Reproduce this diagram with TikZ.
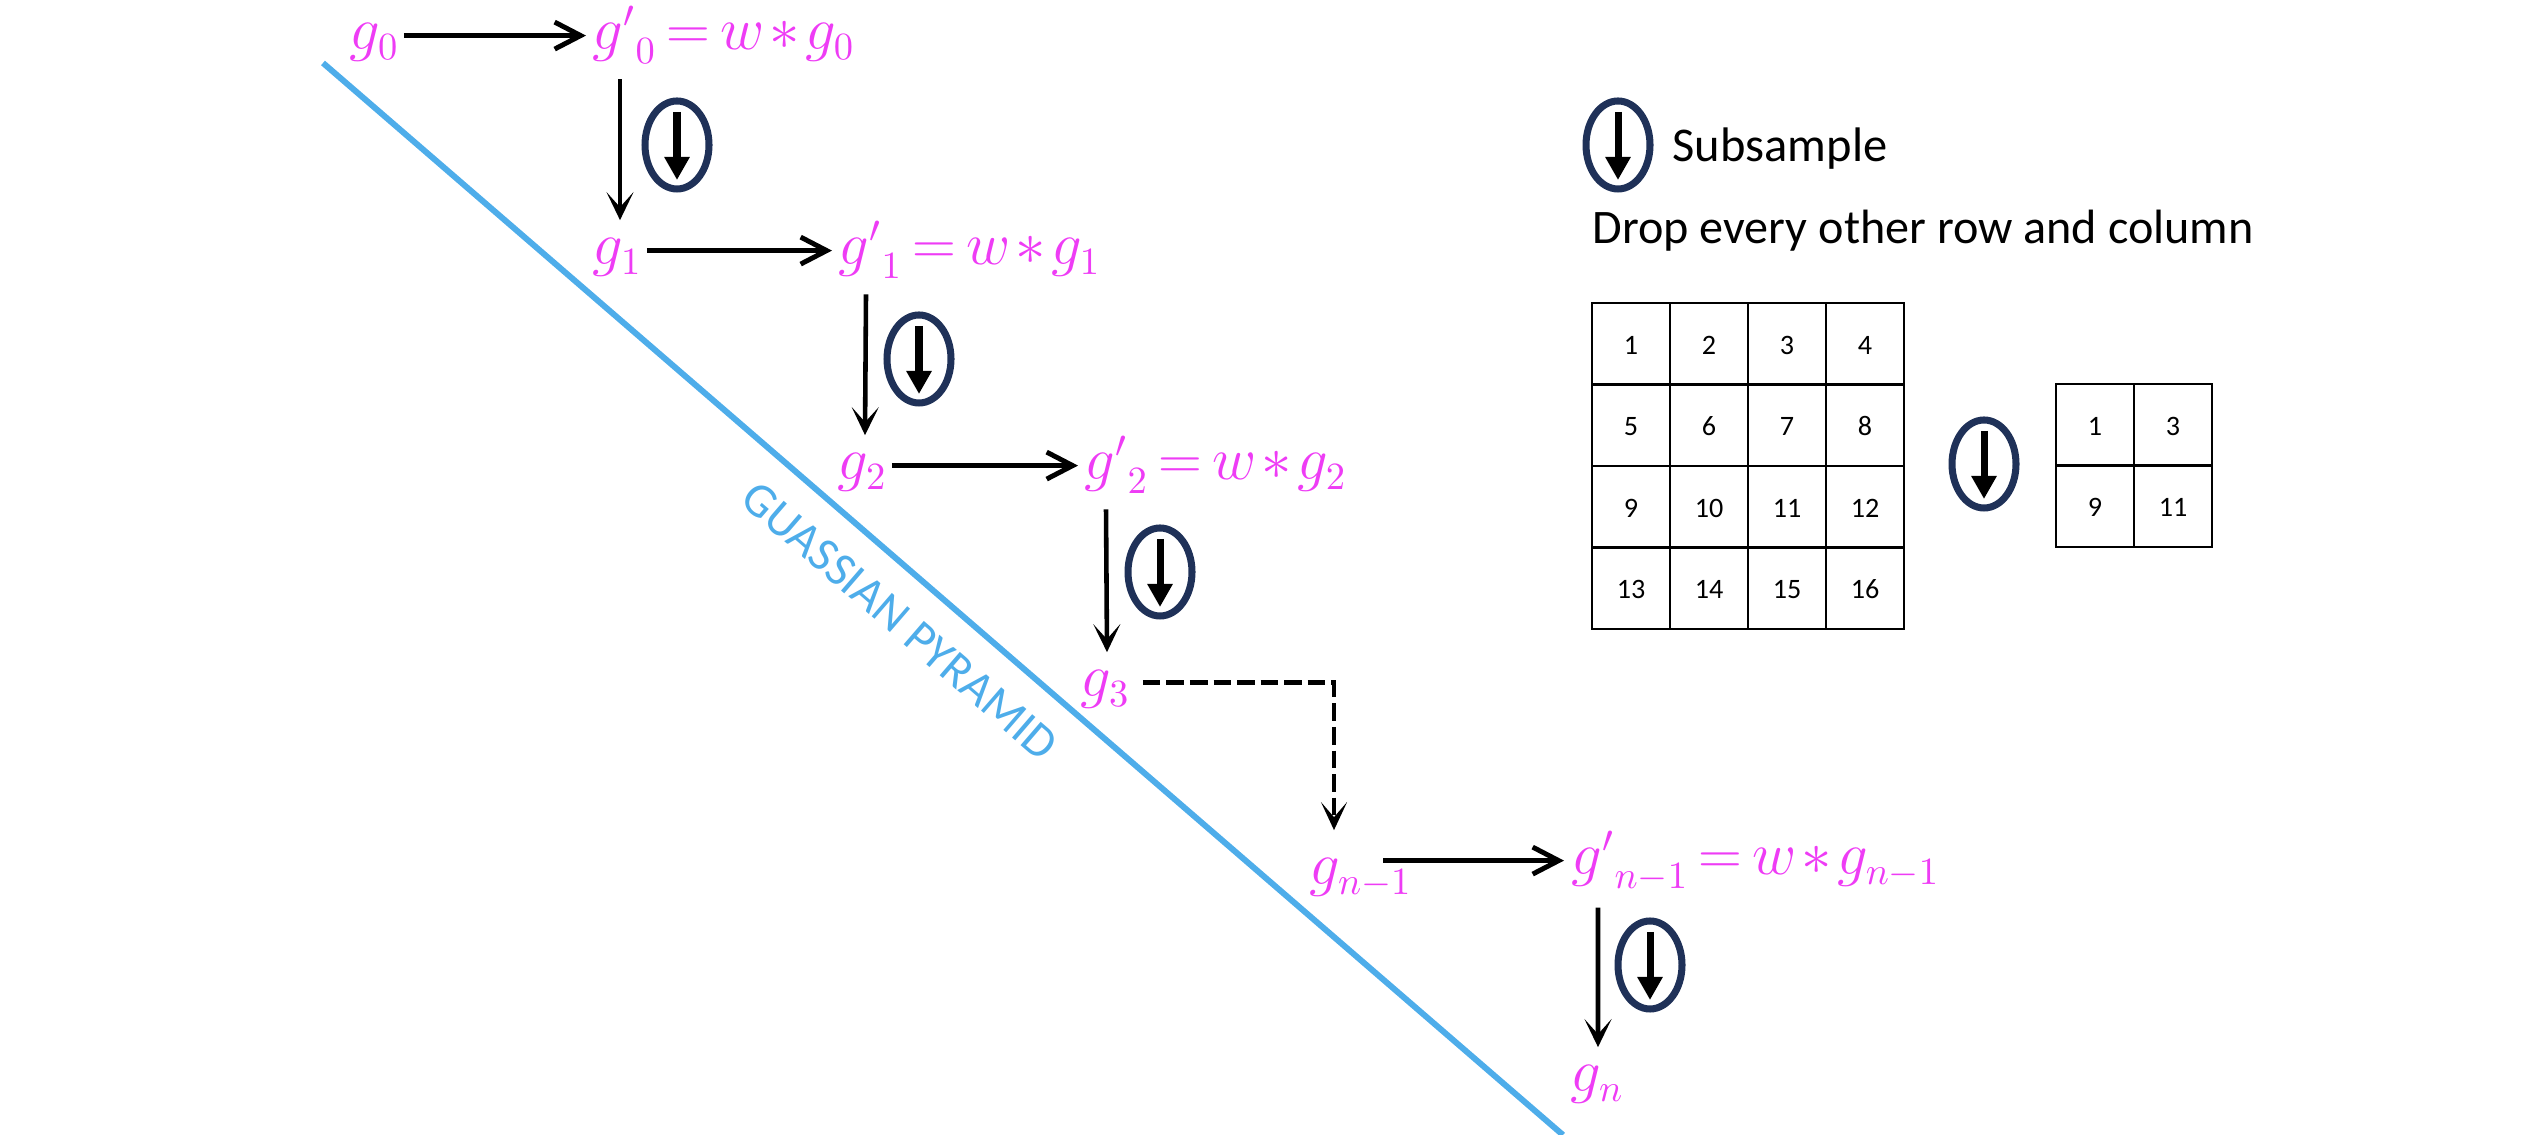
\documentclass[tikz,border=0pt]{standalone}
\usepackage[no-math]{fontspec}
\usepackage{amsmath}
\setmainfont{Carlito}
\usetikzlibrary{shapes,arrows.meta,positioning,calc}
\definecolor{pinkcolor}{RGB}{238,60,245}
\definecolor{bluecolor}{RGB}{78,173,234}
\definecolor{navycolor}{RGB}{31,49,88}

\thickmuskip=3mu
\medmuskip=1.5mu

\tikzset{
  eqnode/.style={text=pinkcolor, anchor=base west, inner sep=0pt, font=\fontsize{16}{20}\selectfont},
  steparrow/.style={-{Straight Barb[length=2.6mm,width=2.7mm,line width=1.4pt]}, line width=1.45pt, black},
  downarrow/.style={-{Stealth[length=2.8mm,width=2.7mm,inset=1.5mm]}, line width=1.3pt, black},
  subring/.style={draw=navycolor, ellipse, line width=2pt, minimum width=.64cm, minimum height=.88cm, inner sep=0pt},
  subarrow/.style={-{Triangle[length=2.3mm,width=2.4mm]}, line width=2pt, black},
  cellbox/.style={draw, line width=.8pt, minimum width=.78cm, minimum height=.815cm, inner sep=0pt, text height=6.1pt, font=\fontsize{8}{10}\selectfont}
}

\begin{document}
\begin{tikzpicture}
  \useasboundingbox (0,0) rectangle (25.32,11.35);

  % pyramid edge and its label
  \coordinate (edgetop) at (3.23,10.72);
  \coordinate (edgeend) at (15.63,0);
  \draw[bluecolor, line width=1.7pt] (edgetop) -- (edgeend);
  \node[text=bluecolor, rotate=-40.8, font=\fontsize{13.7}{17}\selectfont] (edgelabel) at (9.00,5.14) {GUASSIAN PYRAMID};

  % levels of the pyramid
  \node[eqnode] (g0) at (3.49,10.85) {$g_0$};
  \node[eqnode] (gp0) at (5.92,10.85) {${g'}_0 = w * g_0$};
  \node[eqnode] (g1) at (5.92,8.70) {$g_1$};
  \node[eqnode] (gp1) at (8.38,8.70) {${g'}_1 = w * g_1$};
  \node[eqnode] (g2) at (8.37,6.55) {$g_2$};
  \node[eqnode] (gp2) at (10.84,6.55) {${g'}_2 = w * g_2$};
  \node[eqnode] (g3) at (10.80,4.38) {$g_3$};
  \node[eqnode] (gm) at (13.09,2.50) {$g_{n-1}$};
  \node[eqnode] (gpm) at (15.71,2.60) {${g'}_{n-1} = w * g_{n-1}$};
  \node[eqnode] (gn) at (15.70,0.43) {$g_n$};

  % blur steps
  \draw[steparrow] ([xshift=.04cm,yshift=.06cm]g0.mid east) -- ([xshift=-.06cm,yshift=.06cm]gp0.mid west);
  \draw[steparrow] ([xshift=.04cm,yshift=.06cm]g1.mid east) -- ([xshift=-.06cm,yshift=.06cm]gp1.mid west);
  \draw[steparrow] ([xshift=.04cm,yshift=.06cm]g2.mid east) -- ([xshift=-.06cm,yshift=.06cm]gp2.mid west);
  \draw[steparrow] ([xshift=.74cm,yshift=.16cm]gm.mid west) -- ([xshift=-.07cm,yshift=.06cm]gpm.mid west);

  % subsampling steps
  \draw[downarrow] ([xshift=.28cm,yshift=-.15cm]gp0.south west) -- ([xshift=.28cm,yshift=.18cm]g1.north west);
  \draw[downarrow] ([xshift=.28cm,yshift=-.15cm]gp1.south west) -- ([xshift=.28cm,yshift=.18cm]g2.north west);
  \draw[downarrow] ([xshift=.22cm,yshift=-.15cm]gp2.south west) -- ([xshift=.27cm,yshift=.18cm]g3.north west);
  \draw[downarrow] ([xshift=.27cm,yshift=-.15cm]gpm.south west) -- ([xshift=.28cm,yshift=.18cm]gn.north west);
  \draw[line width=1.4pt, dash pattern=on 5pt off 1.7pt, -{Stealth[length=2.8mm,width=2.6mm,inset=1.5mm]}] ([xshift=.12cm,yshift=.06cm]g3.mid east) -| ([xshift=.25cm,yshift=.28cm]gm.north west);

  % subsample symbols
  \foreach \nm/\px/\py in {ringa/6.77/9.90, ringb/9.19/7.76, ringc/11.60/5.63, ringd/16.50/1.70, ringe/16.18/9.90, ringf/19.84/6.71}{
    \node[subring] (\nm) at (\px,\py) {};
    \draw[subarrow] ([yshift=.33cm]\nm.center) -- ([yshift=-.35cm]\nm.center);
  }

  % legend
  \node[anchor=west, inner sep=0pt, font=\fontsize{13.8}{17}\selectfont] (subtext) at (16.72,9.86) {Subsample};
  \node[anchor=base west, inner sep=0pt, font=\fontsize{13.7}{17}\selectfont] (droptext) at (15.92,8.91) {Drop every other row and column};

  % full grid
  \foreach \y in {0,...,3}{
    \foreach \x in {0,...,3}{
      \pgfmathtruncatemacro\n{4*\y+\x+1}
      \node[cellbox] (big\n) at ({16.31+.78*\x},{7.9125-.815*\y}) {\n};
    }
  }

  % reduced grid
  \foreach \n/\px/\py in {1/20.95/7.1025, 3/21.73/7.1025, 9/20.95/6.2875, 11/21.73/6.2875}{
    \node[cellbox] (small\n) at (\px,\py) {\n};
  }
\end{tikzpicture}
\end{document}
